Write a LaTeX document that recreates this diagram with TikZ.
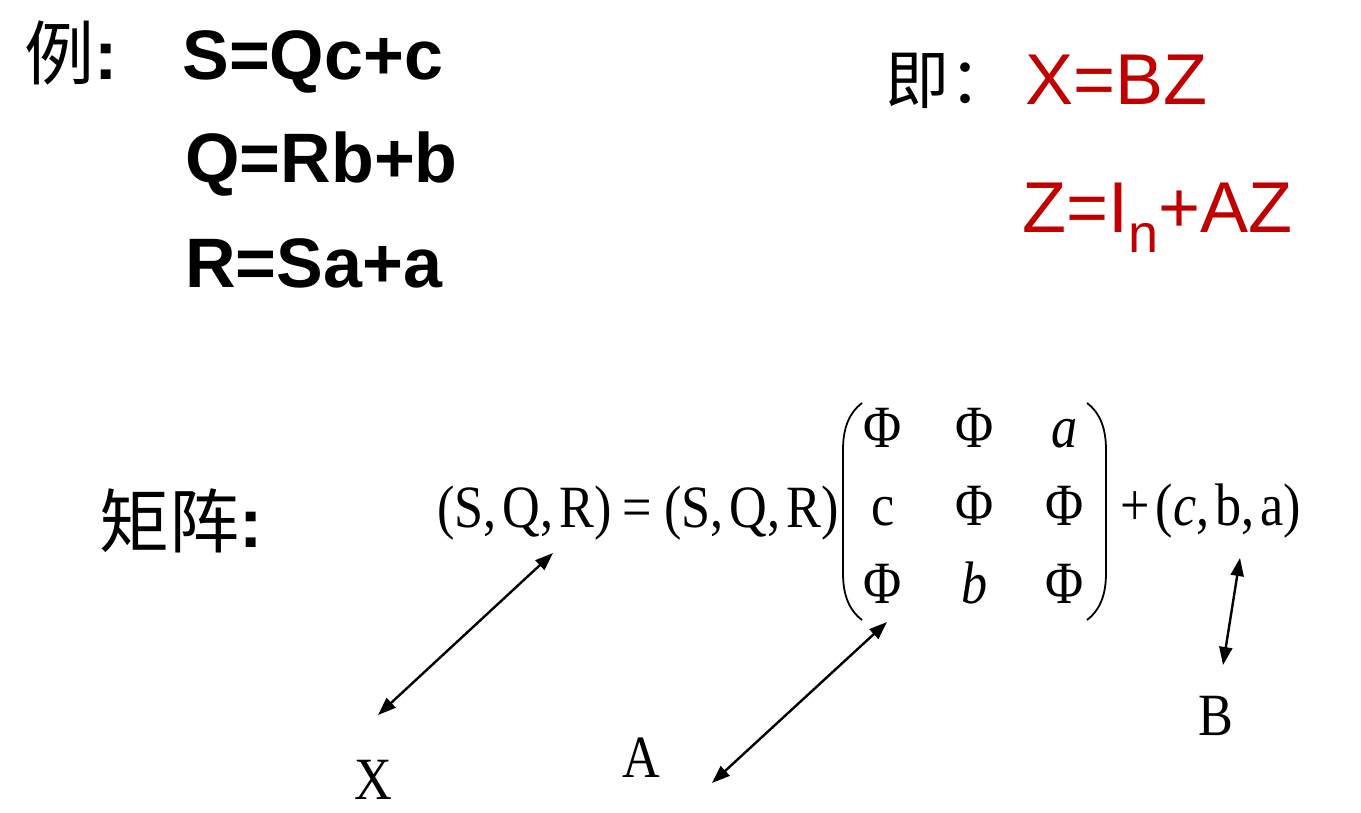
\documentclass[tikz,border=0pt]{standalone}
\usepackage{fontspec}
\setmainfont{Liberation Serif}
\newfontfamily\tallserif[FakeStretch=0.87]{Liberation Serif}
\newfontfamily\arialfont{Liberation Sans}
\newfontfamily\cjkfont{Noto Sans CJK SC}
\usetikzlibrary{arrows.meta}
\definecolor{eqred}{RGB}{192,0,0}

\begin{document}
\begin{tikzpicture}[
    x=0.5pt, y=-0.5pt,
    bigeq/.style={anchor=base west, inner sep=0pt, font=\arialfont\bfseries\fontsize{35}{40}\selectfont},
    redeq/.style={anchor=base west, inner sep=0pt, text=eqred, font=\arialfont\fontsize{36}{40}\selectfont},
    hanzi/.style={anchor=base west, inner sep=0pt, font=\fontsize{35}{40}\selectfont},
    entry/.style={anchor=base, inner sep=0pt, font=\tallserif\fontsize{30}{34}\selectfont},
    vec/.style={anchor=base west, inner sep=0pt, font=\tallserif\fontsize{30}{34}\selectfont},
    tag/.style={anchor=base, inner sep=0pt, font=\tallserif\fontsize{30}{34}\selectfont},
    paren/.style={line width=0.9pt},
    arrow/.style={{Triangle[length=9pt,width=6.5pt]}-{Triangle[length=9pt,width=6.5pt]}, line width=1.2pt},
]
\useasboundingbox (0,0) rectangle (1361,813);

% equations on the left
\node[hanzi] (ex) at (24,80) {{\cjkfont 例}{\arialfont\bfseries :}};
\node[bigeq] (eqS) at (182,80) {S=Qc+c};
\node[bigeq] (eqQ) at (185,183) {Q=Rb+b};
\node[bigeq] (eqR) at (185,287) {R=Sa+a};

% short form
\node[hanzi, font=\cjkfont\fontsize{32}{36}\selectfont] (ie) at (885,104) {即：};
\node[redeq] (eqX) at (1025,105) {X=BZ};
\node[redeq] (eqZ) at (1022,233) {Z=I\raisebox{-9.5pt}{\fontsize{27}{30}\selectfont n}+AZ};

% matrix form
\node[hanzi] (mat) at (99,547) {{\cjkfont 矩阵}{\arialfont\bfseries :}};
\node[vec] (xvec) at (437,527) {(S,\kern3pt Q,\kern3pt R)};
\node[entry] (eqsign) at (637,527) {=};
\node[vec] (svec) at (664,527) {(S,\kern3pt Q,\kern3pt R)};

\node[entry] (m11) at (883,447) {Φ};
\node[entry] (m12) at (975,447) {Φ};
\node[entry] (m13) at (1065,447) {\textit{a}};
\node[entry] (m21) at (883,525) {c};
\node[entry] (m22) at (975,525) {Φ};
\node[entry] (m23) at (1065,525) {Φ};
\node[entry] (m31) at (883,603) {Φ};
\node[entry] (m32) at (975,603) {\textit{b}};
\node[entry] (m33) at (1065,603) {Φ};

\draw[paren] (862,403) .. controls (849,413) and (843,428) .. (843,450) -- (843,573) .. controls (843,595) and (849,610) .. (862,620);
\draw[paren] (1087,403) .. controls (1100,413) and (1106,428) .. (1106,450) -- (1106,573) .. controls (1106,595) and (1100,610) .. (1087,620);

\node[vec] (bvec) at (1120,525) {+\kern3pt(\textit{c},\kern3pt b,\kern3pt a)};

% labels and arrows
\node[tag] (X) at (373,799) {X};
\node[tag] (A) at (641,777) {A};
\node[tag] (B) at (1216,735) {B};

\coordinate (xtop) at (553,553);
\coordinate (xbot) at (378,715);
\coordinate (atop) at (887,622);
\coordinate (abot) at (712,783);
\coordinate (btop) at (1240,558);
\coordinate (bbot) at (1223,665);

\draw[arrow] (xbot) -- (xtop);
\draw[arrow] (abot) -- (atop);
\draw[arrow] (bbot) -- (btop);

\end{tikzpicture}
\end{document}
